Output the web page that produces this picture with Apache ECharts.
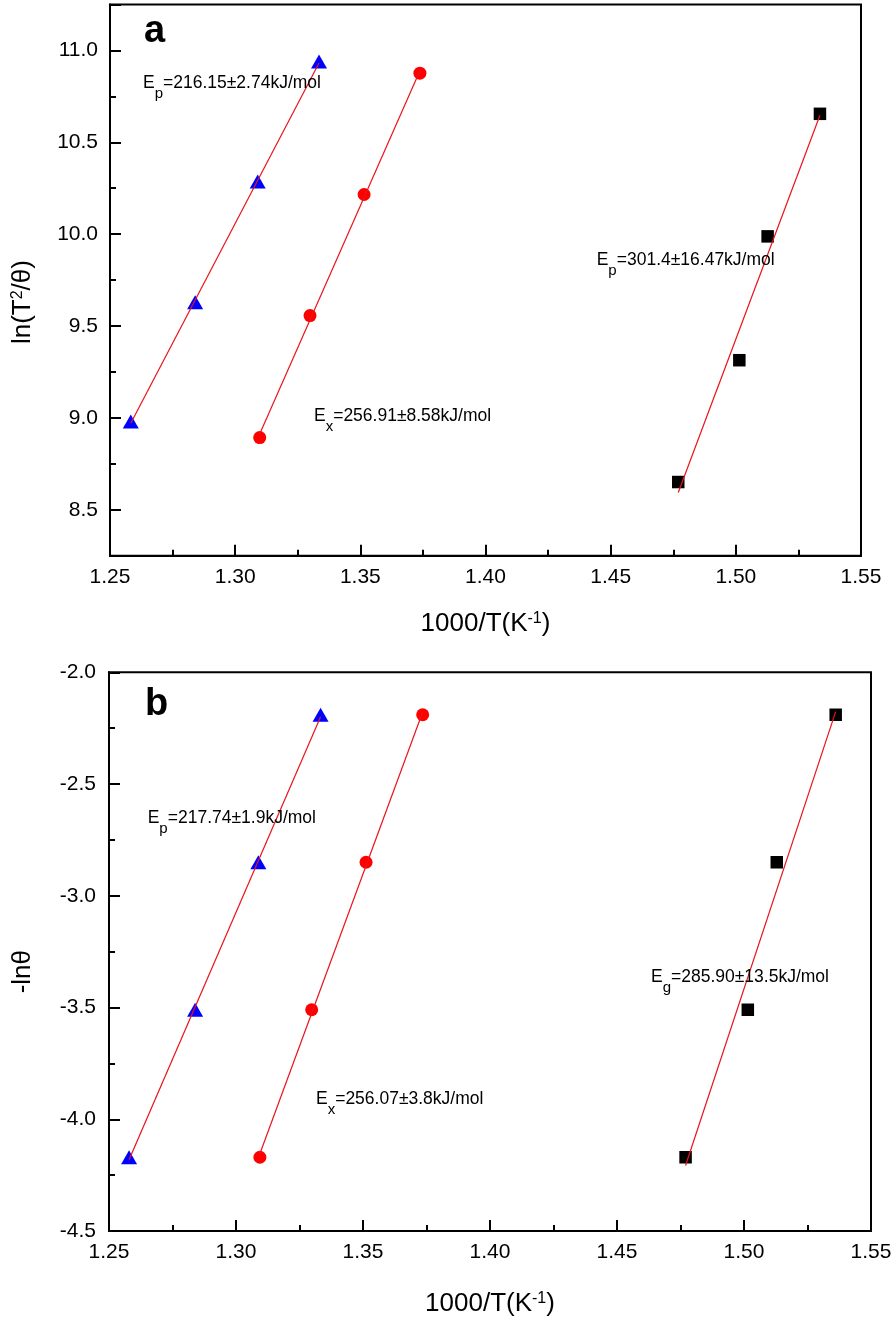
<!DOCTYPE html>
<html>
<head>
<meta charset="utf-8">
<script src="https://cdn.jsdelivr.net/npm/echarts@6/dist/echarts.min.js"></script>
<style>html,body{margin:0;padding:0;background:#fff}#c{width:896px;height:1323px}</style>
</head>
<body>
<div id="c"></div>
<script>
// ---------- tick labels ----------
const xTickLabels = ['1.25', '1.30', '1.35', '1.40', '1.45', '1.50', '1.55'];
const yTickLabelsA = ['8.5', '9.0', '9.5', '10.0', '10.5', '11.0'];
const yTickLabelsB = ['-4.5', '-4.0', '-3.5', '-3.0', '-2.5', '-2.0'];

// ---------- panel a : ln(T^2/theta) vs 1000/T ----------
const aTriangleX = [1.2583, 1.2840, 1.3090, 1.3335];
const aTriangleY = [8.98, 9.63, 10.286, 10.94];
const aCircleX = [1.3098, 1.3299, 1.3515, 1.3738];
const aCircleY = [8.893, 9.557, 10.216, 10.876];
const aSquareX = [1.4770, 1.5014, 1.5127, 1.5336];
const aSquareY = [8.651, 9.314, 9.988, 10.655];
const aFitTriangle = [[1.2583, 8.971], [1.3335, 10.932]];
const aFitCircle = [[1.3098, 8.913], [1.3738, 10.890]];
const aFitSquare = [[1.4770, 8.594], [1.5336, 10.647]];
const aNotes = [['p', '=216.15±2.74kJ/mol'], ['x', '=256.91±8.58kJ/mol'], ['p', '=301.4±16.47kJ/mol']];

// ---------- panel b : -ln(theta) vs 1000/T ----------
const bTriangleX = [1.2579, 1.2839, 1.3088, 1.3333];
const bCircleX = [1.3094, 1.3298, 1.3512, 1.3735];
const bSquareX = [1.4770, 1.5015, 1.5129, 1.5361];
const bY = [-4.17, -3.51, -2.85, -2.19];
const bFitTriangle = [[1.2579, -4.181], [1.3333, -2.199]];
const bFitCircle = [[1.3094, -4.154], [1.3735, -2.178]];
const bFitSquare = [[1.4770, -4.207], [1.5361, -2.176]];
const bNotes = [['p', '=217.74±1.9kJ/mol'], ['g', '=285.90±13.5kJ/mol'], ['x', '=256.07±3.8kJ/mol']];

const FONT = "'Liberation Sans', Arial, Helvetica, sans-serif";
const pair = (xs, ys) => xs.map((x, i) => [x, ys[i]]);
const lineStyleAxis = {color: '#000', width: 2};

const nameRich = {
  n: {fontSize: 26, lineHeight: 27, verticalAlign: 'top', fontFamily: FONT, color: '#000'},
  s: {fontSize: 16, lineHeight: 16, verticalAlign: 'top', fontFamily: FONT, color: '#000'}
};

function xAxisCfg(gridIndex, nameGap) {
  return {
    type: 'value', gridIndex, min: 1.25, max: 1.55, interval: 0.05,
    axisLine: {show: true, onZero: false, lineStyle: lineStyleAxis},
    axisTick: {show: true, inside: true, length: 11, lineStyle: lineStyleAxis},
    minorTick: {show: true, splitNumber: 2, length: 6, lineStyle: lineStyleAxis},
    splitLine: {show: false}, minorSplitLine: {show: false},
    axisLabel: {color: '#000', fontSize: 21, fontFamily: FONT, margin: 11,
      formatter: v => { const s = v.toFixed(2); return xTickLabels.includes(s) ? s : ''; }},
    name: '{n|1000/T(K}{s|-1}{n|)}', nameLocation: 'middle', nameGap,
    nameTextStyle: {color: '#000', fontFamily: FONT, rich: nameRich}
  };
}

function yNameStyle(shift) {
  return {color: '#000', fontFamily: FONT, padding: [0, shift, 0, 0], rich: nameRich};
}

function scatter(xi, yi, data, symbol, size, color) {
  return {type: 'scatter', xAxisIndex: xi, yAxisIndex: yi, data, symbol, symbolSize: size,
    itemStyle: {color, opacity: 1}, z: 2, silent: true};
}
function fit(xi, yi, data) {
  return {type: 'line', xAxisIndex: xi, yAxisIndex: yi, data, symbol: 'none', showSymbol: false,
    lineStyle: {color: '#e8141b', width: 1.2}, z: 3, silent: true};
}

function note(x, y, item) {
  return {type: 'text', x, y, z: 10, silent: true, style: {
    text: '{m|E}{s|' + item[0] + '}{m|' + item[1] + '}',
    textAlign: 'left', textVerticalAlign: 'top',
    rich: {
      m: {fontSize: 17.5, lineHeight: 18, verticalAlign: 'top', fontFamily: FONT, fill: '#000', color: '#000'},
      s: {fontSize: 15, lineHeight: 15, verticalAlign: 'top', padding: [12, 0, 0, 0], fontFamily: FONT, fill: '#000', color: '#000'}
    }
  }};
}

const chart = echarts.init(document.getElementById('c'), null, {renderer: 'canvas'});
chart.setOption({
  animation: false,
  backgroundColor: '#fff',
  grid: [
    {left: 110, right: 35, top: 4.5, height: 551.2, show: true, borderColor: '#000', borderWidth: 2, outerBoundsMode: 'none', containLabel: false},
    {left: 109, right: 25, top: 672.3, height: 558.7, show: true, borderColor: '#000', borderWidth: 2, outerBoundsMode: 'none', containLabel: false}
  ],
  xAxis: [xAxisCfg(0, 55), xAxisCfg(1, 60)],
  yAxis: [
    { // panel a main (labels + long ticks)
      type: 'value', gridIndex: 0, position: 'left', min: 8.25, max: 11.25, splitNumber: 6,
      axisLine: {show: true, onZero: false, lineStyle: lineStyleAxis},
      axisTick: {show: true, inside: true, length: 11, lineStyle: lineStyleAxis},
      splitLine: {show: false},
      axisLabel: {color: '#000', fontSize: 21, fontFamily: FONT, margin: 12,
        formatter: v => { const s = v.toFixed(1); return (yTickLabelsA.includes(s) && Math.abs(v * 2 - Math.round(v * 2)) < 1e-6) ? s : ''; }},
      name: '{n|ln(T}{s|2}{n|/θ)}', nameLocation: 'middle', nameRotate: 90, nameGap: 73,
      nameTextStyle: yNameStyle(44)
    },
    { // panel a minor ticks
      type: 'value', gridIndex: 0, position: 'left', min: 8.25, max: 11.25, interval: 0.25,
      axisLine: {show: false, onZero: false},
      axisTick: {show: true, inside: true, length: 6, lineStyle: lineStyleAxis},
      splitLine: {show: false}, axisLabel: {show: false}
    },
    { // panel b
      type: 'value', gridIndex: 1, position: 'left', min: -4.5, max: -2.0, interval: 0.5,
      axisLine: {show: true, onZero: false, lineStyle: lineStyleAxis},
      axisTick: {show: true, inside: true, length: 11, lineStyle: lineStyleAxis},
      minorTick: {show: true, splitNumber: 2, length: 6, lineStyle: lineStyleAxis},
      splitLine: {show: false}, minorSplitLine: {show: false},
      axisLabel: {color: '#000', fontSize: 21, fontFamily: FONT, margin: 13,
        formatter: v => { const s = v.toFixed(1); return yTickLabelsB.includes(s) ? s : ''; }},
      name: '{n|-lnθ}', nameLocation: 'middle', nameRotate: 90, nameGap: 72,
      nameTextStyle: yNameStyle(40)
    }
  ],
  series: [
    scatter(0, 0, pair(aTriangleX, aTriangleY), 'triangle', [16, 14], '#0000ff'),
    scatter(0, 0, pair(aCircleX, aCircleY), 'circle', 13, '#ff0000'),
    scatter(0, 0, pair(aSquareX, aSquareY), 'rect', 12.5, '#000000'),
    fit(0, 0, aFitTriangle), fit(0, 0, aFitCircle), fit(0, 0, aFitSquare),
    scatter(1, 2, pair(bTriangleX, bY), 'triangle', [16, 14], '#0000ff'),
    scatter(1, 2, pair(bCircleX, bY), 'circle', 13, '#ff0000'),
    scatter(1, 2, pair(bSquareX, bY), 'rect', 12.5, '#000000'),
    fit(1, 2, bFitTriangle), fit(1, 2, bFitCircle), fit(1, 2, bFitSquare)
  ],
  graphic: [
    {type: 'text', x: 144, y: 32, silent: true, style: {text: 'a', font: 'bold 38px ' + FONT, fill: '#000', textAlign: 'left', textVerticalAlign: 'middle'}},
    {type: 'text', x: 145, y: 705, silent: true, style: {text: 'b', font: 'bold 38px ' + FONT, fill: '#000', textAlign: 'left', textVerticalAlign: 'middle'}},
    note(143, 74, aNotes[0]),
    note(314, 407.5, aNotes[1]),
    note(596.7, 251, aNotes[2]),
    note(147.7, 809, bNotes[0]),
    note(651, 968, bNotes[1]),
    note(316, 1090, bNotes[2])
  ]
});
</script>
</body>
</html>
